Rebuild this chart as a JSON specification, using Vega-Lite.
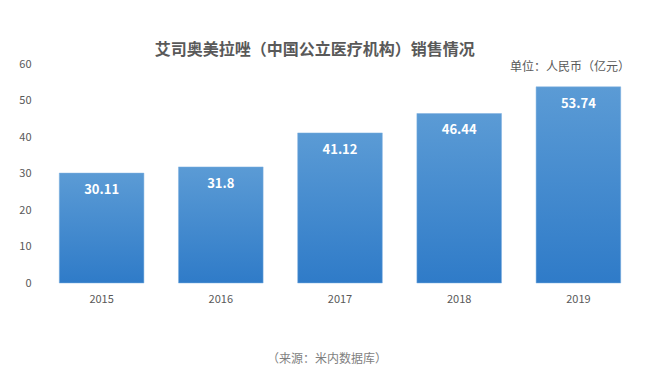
{
  "$schema": "https://vega.github.io/schema/vega-lite/v6.json",
  "width": 596,
  "height": 219,
  "autosize": {"type": "none"},
  "padding": {"left": 42, "top": 64, "right": 29, "bottom": 95},
  "background": "white",
  "title": {
    "text": "艾司奥美拉唑（中国公立医疗机构）销售情况",
    "subtitle": "",
    "anchor": "start",
    "offset": 6,
    "dx": 136,
    "dy": 6,
    "font": "Noto Sans CJK SC",
    "fontSize": 16,
    "fontWeight": "bold",
    "color": "#595959"
  },
  "data": {
    "values": [
      {"year": "2015", "value": 30.11, "label": "30.11"},
      {"year": "2016", "value": 31.8, "label": "31.8"},
      {"year": "2017", "value": 41.12, "label": "41.12"},
      {"year": "2018", "value": 46.44, "label": "46.44"},
      {"year": "2019", "value": 53.74, "label": "53.74"}
    ]
  },
  "encoding": {
    "x": {
      "field": "year",
      "type": "nominal",
      "scale": {"paddingInner": 0.29, "paddingOuter": 0.145},
      "axis": {
        "title": null,
        "labelAngle": 0,
        "domain": false,
        "ticks": false,
        "labelPadding": 10,
        "labelFont": "Noto Sans CJK SC",
        "labelFontSize": 11,
        "labelColor": "#595959"
      }
    },
    "y": {
      "field": "value",
      "type": "quantitative",
      "scale": {"domain": [0, 60]},
      "axis": {
        "title": null,
        "values": [0, 10, 20, 30, 40, 50, 60],
        "grid": false,
        "domain": false,
        "ticks": false,
        "labelPadding": 11,
        "labelFont": "Noto Sans CJK SC",
        "labelFontSize": 11,
        "labelColor": "#595959"
      }
    }
  },
  "layer": [
    {
      "mark": {
        "type": "bar",
        "color": {
          "gradient": "linear",
          "x1": 0, "y1": 0, "x2": 0, "y2": 1,
          "stops": [
            {"offset": 0, "color": "#5b9bd5"},
            {"offset": 1, "color": "#2f7bc8"}
          ]
        },
        "stroke": "#7fb0e0",
        "strokeWidth": 0.5
      }
    },
    {
      "mark": {
        "type": "text",
        "baseline": "middle",
        "dy": 17,
        "font": "Noto Sans CJK SC",
        "fontSize": 13,
        "fontWeight": "bold",
        "color": "white"
      },
      "encoding": {"text": {"field": "label"}}
    },
    {
      "data": {"values": [{"t": "单位：人民币（亿元）"}]},
      "mark": {
        "type": "text",
        "align": "right",
        "baseline": "middle",
        "x": "width",
        "dx": -8,
        "y": 3,
        "font": "Noto Sans CJK SC",
        "fontSize": 12,
        "color": "#595959"
      },
      "encoding": {"text": {"field": "t"}, "x": null, "y": null}
    },
    {
      "data": {"values": [{"t": "（来源：米内数据库）"}]},
      "mark": {
        "type": "text",
        "align": "center",
        "baseline": "middle",
        "x": 285,
        "y": "height",
        "dy": 76,
        "font": "Noto Sans CJK SC",
        "fontSize": 12,
        "color": "#7f7f7f"
      },
      "encoding": {"text": {"field": "t"}, "x": null, "y": null}
    }
  ],
  "config": {
    "view": {
      "stroke": null,
      "fill": {
        "gradient": "linear",
        "x1": 0, "y1": 0, "x2": 0, "y2": 1,
        "stops": [
          {"offset": 0, "color": "#ffffff"},
          {"offset": 0.7, "color": "#e6e6e6"},
          {"offset": 1, "color": "#f0f0f0"}
        ]
      }
    }
  }
}
